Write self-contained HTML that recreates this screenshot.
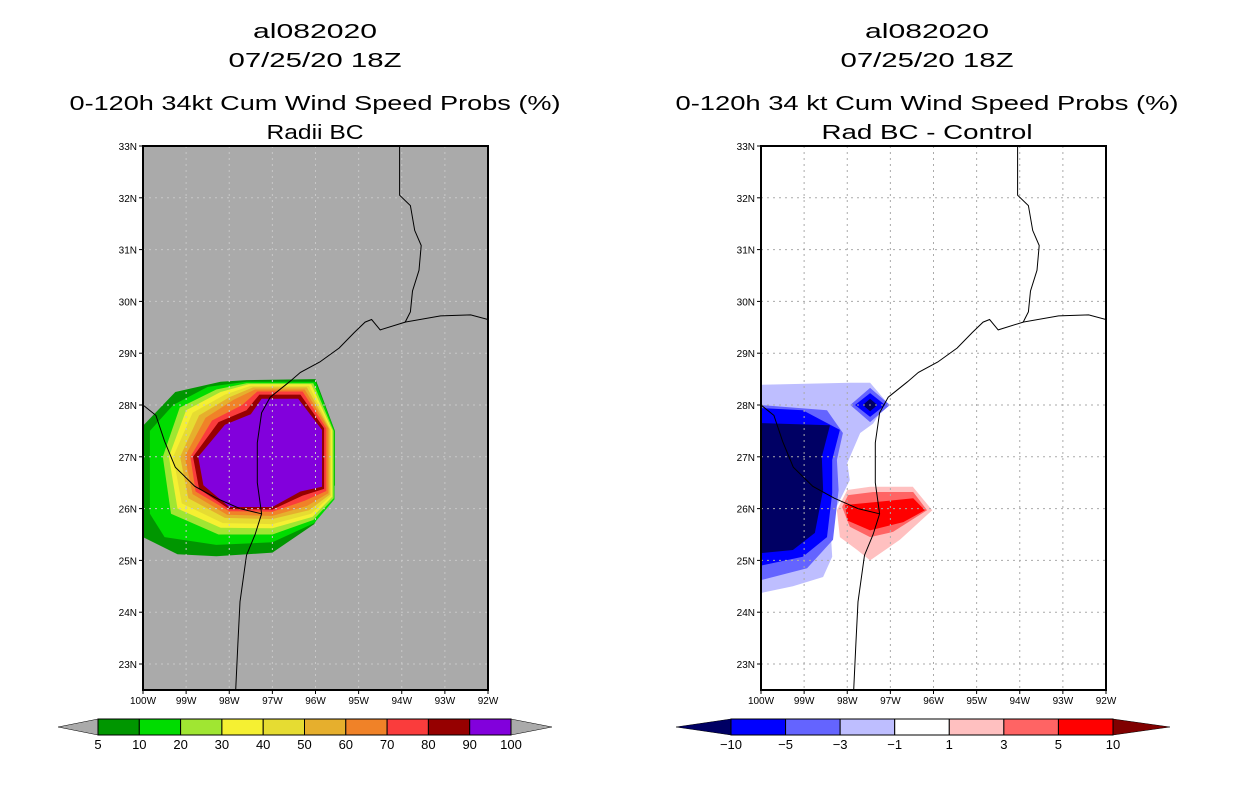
<!DOCTYPE html>
<html><head><meta charset="utf-8"><style>
body{margin:0;background:#fff;width:1236px;height:800px;overflow:hidden}
svg text{font-family:"Liberation Sans",sans-serif;fill:#000}
</style></head><body>
<svg id="s" width="1236" height="800" xmlns="http://www.w3.org/2000/svg">
<defs>
<clipPath id="cl"><rect x="143" y="146" width="345" height="544"/></clipPath>
<clipPath id="cr"><rect x="761" y="146" width="345" height="544"/></clipPath>
</defs>
</svg>
<script>
const NS="http://www.w3.org/2000/svg";
const svg=document.getElementById('s');
// ---- data ----
const leftLevels=[5,10,20,30,40,50,60,70,80,90,100];
const leftColors=["#009600","#00dc00","#a0e632","#f5f032","#e6dc32","#e6af2d","#f08228","#fa3c3c","#960000","#8200dc"];
const leftRings=[
[[-100,27.6],[-99.25,28.25],[-98.2,28.45],[-97.6,28.48],[-96.0,28.5],[-95.55,27.5],[-95.55,26.45],[-96.03,25.7],[-97.0,25.15],[-98.3,25.08],[-99.2,25.12],[-100,25.45]],
[[-99.84,27.5],[-99.3,28.0],[-98.5,28.35],[-97.6,28.45],[-96.0,28.45],[-95.56,27.5],[-95.56,26.18],[-96.03,25.72],[-97.0,25.35],[-98.3,25.3],[-99.5,25.45],[-99.84,25.9]],
[[-99.54,27.0],[-99.15,27.95],[-98.3,28.3],[-97.6,28.42],[-96.05,28.42],[-95.58,27.5],[-95.58,26.2],[-96.05,25.78],[-97.0,25.5],[-98.25,25.5],[-99.35,25.9]],
[[-99.4,27.0],[-99.0,27.9],[-98.2,28.25],[-97.55,28.4],[-96.1,28.4],[-95.61,27.51],[-95.61,26.23],[-96.07,25.84],[-97.0,25.62],[-98.2,25.63],[-99.2,26.0]],
[[-99.3,27.0],[-98.85,27.85],[-98.1,28.2],[-97.5,28.37],[-96.15,28.37],[-95.64,27.52],[-95.64,26.25],[-96.1,25.9],[-97.0,25.7],[-98.15,25.72],[-99.1,26.1]],
[[-99.14,27.0],[-98.7,27.8],[-98.0,28.15],[-97.45,28.34],[-96.2,28.34],[-95.67,27.53],[-95.67,26.27],[-96.15,25.97],[-97.0,25.8],[-98.1,25.82],[-98.95,26.2]],
[[-99.03,27.0],[-98.55,27.75],[-97.9,28.1],[-97.4,28.3],[-96.25,28.3],[-95.7,27.55],[-95.7,26.3],[-96.2,26.05],[-97.0,25.86],[-98.05,25.88],[-98.85,26.28]],
[[-98.9,27.0],[-98.4,27.7],[-97.7,28.0],[-97.35,28.26],[-96.3,28.26],[-95.75,27.55],[-95.75,26.34],[-96.25,26.15],[-97.0,25.94],[-98.0,25.95],[-98.78,26.33]],
[[-98.84,27.0],[-98.25,27.67],[-97.6,27.9],[-97.3,28.2],[-96.35,28.2],[-95.8,27.55],[-95.8,26.38],[-96.3,26.25],[-97.0,25.98],[-98.0,25.99],[-98.7,26.38]],
[[-98.72,27.0],[-98.1,27.62],[-97.5,27.82],[-97.25,28.12],[-96.4,28.12],[-95.85,27.52],[-95.85,26.42],[-96.35,26.33],[-97.0,26.03],[-98.0,26.03],[-98.6,26.45]],
[[-98.52,27.0],[-98.0,27.55],[-97.4,27.75],[-97.2,28.05],[-96.45,28.05],[-95.9,27.5],[-95.9,26.45],[-96.4,26.4],[-97.0,26.2],[-98.0,26.2],[-98.45,26.55]]
];
const rightLevels=["-10","-5","-3","-1","1","3","5","10"];
const rightColors=["#000064","#0000ff","#6464ff","#bebeff","#ffffff","#ffc0c0","#ff6464","#ff0000","#800000"];
const rightRings=[
{c:3,p:[[-100,28.39],[-97.94,28.43],[-97.47,28.43],[-97.08,28.05],[-97.4,27.64],[-97.7,27.46],[-98.0,26.88],[-97.94,26.55],[-98.4,25.78],[-98.35,25.07],[-98.56,24.68],[-99.26,24.5],[-100,24.37]]},
{c:2,p:[[-100,28.0],[-98.47,27.9],[-98.1,27.46],[-98.24,26.94],[-98.2,26.36],[-98.33,25.4],[-98.93,24.85],[-100,24.62]]},
{c:1,p:[[-100,27.94],[-99.03,27.9],[-98.17,27.52],[-98.35,26.94],[-98.35,26.3],[-98.47,25.45],[-99.03,25.07],[-100,24.9]]},
{c:0,p:[[-100,27.65],[-98.4,27.61],[-98.59,27.0],[-98.56,26.36],[-98.75,25.53],[-99.26,25.2],[-100,25.14]]},
{c:2,p:[[-97.47,28.33],[-97.01,28.0],[-97.47,27.67],[-97.93,28.0]]},
{c:1,p:[[-97.47,28.23],[-97.12,28.0],[-97.47,27.77],[-97.82,28.0]]},
{c:0,p:[[-97.47,28.12],[-97.3,28.0],[-97.47,27.88],[-97.64,28.0]]},
{c:5,p:[[-98.24,25.97],[-98.0,26.36],[-97.47,26.42],[-96.48,26.42],[-96.03,25.97],[-96.78,25.4],[-97.47,25.0],[-97.77,25.2],[-98.17,25.45]]},
{c:6,p:[[-98.12,26.03],[-97.98,26.26],[-97.4,26.32],[-96.47,26.32],[-96.15,25.97],[-96.94,25.55],[-97.47,25.45],[-97.94,25.65]]},
{c:7,p:[[-98.05,26.07],[-97.3,26.13],[-96.47,26.2],[-96.2,25.97],[-96.7,25.74],[-97.47,25.58],[-98.0,25.77]]}
];
const coastNE=[[-94.05,33],[-94.05,32.05],[-93.8,31.85],[-93.7,31.37],[-93.55,31.08],[-93.6,30.6],[-93.75,30.2],[-93.8,29.8],[-93.92,29.6],[-93.1,29.72],[-92.4,29.74],[-92,29.65]];
const coastTX=[[-93.92,29.6],[-94.5,29.45],[-94.7,29.65],[-94.85,29.6],[-95.1,29.4],[-95.45,29.1],[-95.9,28.83],[-96.35,28.63],[-96.6,28.45],[-97.05,28.15],[-97.25,27.85],[-97.35,27.27],[-97.35,26.5],[-97.25,25.9],[-97.4,25.5],[-97.6,25.1],[-97.75,24.2],[-97.8,23.4],[-97.85,22.5]];
const riverRG=[[-100,28.0],[-99.7,27.8],[-99.5,27.3],[-99.25,26.8],[-98.8,26.43],[-98.3,26.2],[-97.75,26.0],[-97.25,25.9]];
const lonTicks=[-100,-99,-98,-97,-96,-95,-94,-93,-92];
const latTicks=[23,24,25,26,27,28,29,30,31,32,33];
// ---- helpers ----
function el(t,a,p){const e=document.createElementNS(NS,t);for(const k in a)e.setAttribute(k,a[k]);(p||svg).appendChild(e);return e;}
const Y0=146,KX=43.125,KY=51.8;
function px(x0,lon){return x0+(lon+100)*KX;}
function py(lat){return Y0+(33-lat)*KY;}
function pts(x0,arr){return arr.map(p=>px(x0,p[0]).toFixed(1)+","+py(p[1]).toFixed(1)).join(" ");}
function txt(x,y,s,size,anchor,len,p){const t=el('text',{x:x,y:y,'font-size':size,'text-anchor':anchor||'middle'},p);if(len){t.setAttribute('textLength',len);t.setAttribute('lengthAdjust','spacingAndGlyphs');}t.textContent=s;return t;}

function panel(x0,name,bg,clip,drawFill,gridCol){
  const g=el('g',{'clip-path':'url(#'+clip+')'});
  
  
  el('rect',{x:x0,y:146,width:345,height:544,fill:bg},g);
  drawFill(g);
  lonTicks.forEach(l=>{const ln=el('line',{x1:px(x0,l),x2:px(x0,l),y1:146,y2:690,stroke:gridCol,'stroke-dasharray':'2,4','stroke-width':1},g);
    
    });
  latTicks.forEach(l=>{const ln=el('line',{x1:x0,x2:x0+345,y1:py(l),y2:py(l),stroke:gridCol,'stroke-dasharray':'2,4','stroke-width':1},g);
    
    });
  [coastNE,coastTX,riverRG].forEach(c=>{const pl=el('polyline',{points:pts(x0,c),fill:'none',stroke:'#000','stroke-width':1},g);
    
    });
  const fr=el('rect',{x:x0,y:146,width:345,height:544,fill:'none',stroke:'#000','stroke-width':2});
  
  
  latTicks.forEach(l=>{el('line',{x1:x0-4,x2:x0,y1:py(l),y2:py(l),stroke:'#000'});
    const t=txt(x0-6,py(l)+4,l+'N',10,'end');
    
    });
  lonTicks.forEach(l=>{el('line',{x1:px(x0,l),x2:px(x0,l),y1:690,y2:694,stroke:'#000'});
    const t=txt(px(x0,l),704,(-l)+'W',10,'middle');
    
    });
}
panel(143,'left','#aaaaaa','cl',g=>{
  leftRings.forEach((r,i)=>{if(i>=leftColors.length)return;
    const p=el('polygon',{points:pts(143,r),fill:leftColors[i]},g);
    
    });
},'#c8c8c8');
panel(761,'right','#ffffff','cr',g=>{
  rightRings.forEach(r=>{const p=el('polygon',{points:pts(761,r.p),fill:rightColors[r.c]},g);
    
    });
},'#aaaaaa');
[[315,'al082020','07/25/20 18Z','0-120h 34kt Cum Wind Speed Probs (%)','Radii BC',491,97],[927,'al082020','07/25/20 18Z','0-120h 34 kt Cum Wind Speed Probs (%)','Rad BC - Control',503,211]].forEach((t,i)=>{
  const a=txt(t[0],38,t[1],20,'middle',124);
  const b=txt(t[0],67,t[2],20,'middle',173);
  const c=txt(t[0],110,t[3],20,'middle',t[5]);
  const d=txt(t[0],139,t[4],20,'middle',t[6]);
});
function colorbar(x0,x1,tl,tr,cols,labels,leftTri,rightTri,name){
  const g=el('g',{});
  
  
  const w=(x1-x0)/cols.length;
  el('polygon',{points:`${tl},727 ${x0},719 ${x0},735`,fill:leftTri,stroke:'#000','stroke-width':0.5},g);
  el('polygon',{points:`${tr},727 ${x1},719 ${x1},735`,fill:rightTri,stroke:'#000','stroke-width':0.5},g);
  cols.forEach((c,i)=>{const r=el('rect',{x:x0+i*w,y:719,width:w,height:16,fill:c,stroke:'#000','stroke-width':1},g);
    
    });
  labels.forEach((l,i)=>{const t=txt(x0+i*w,749,l,13,'middle',null,g);
    
    });
}
colorbar(98,511,58,552,leftColors,leftLevels.map(String),'#aaaaaa','#aaaaaa','left-colorbar');
colorbar(731,1113,676,1170,rightColors.slice(1,8),rightLevels.map(s=>s.replace('-','\u2212')),rightColors[0],rightColors[8],'right-colorbar');
</script>
</body></html>
